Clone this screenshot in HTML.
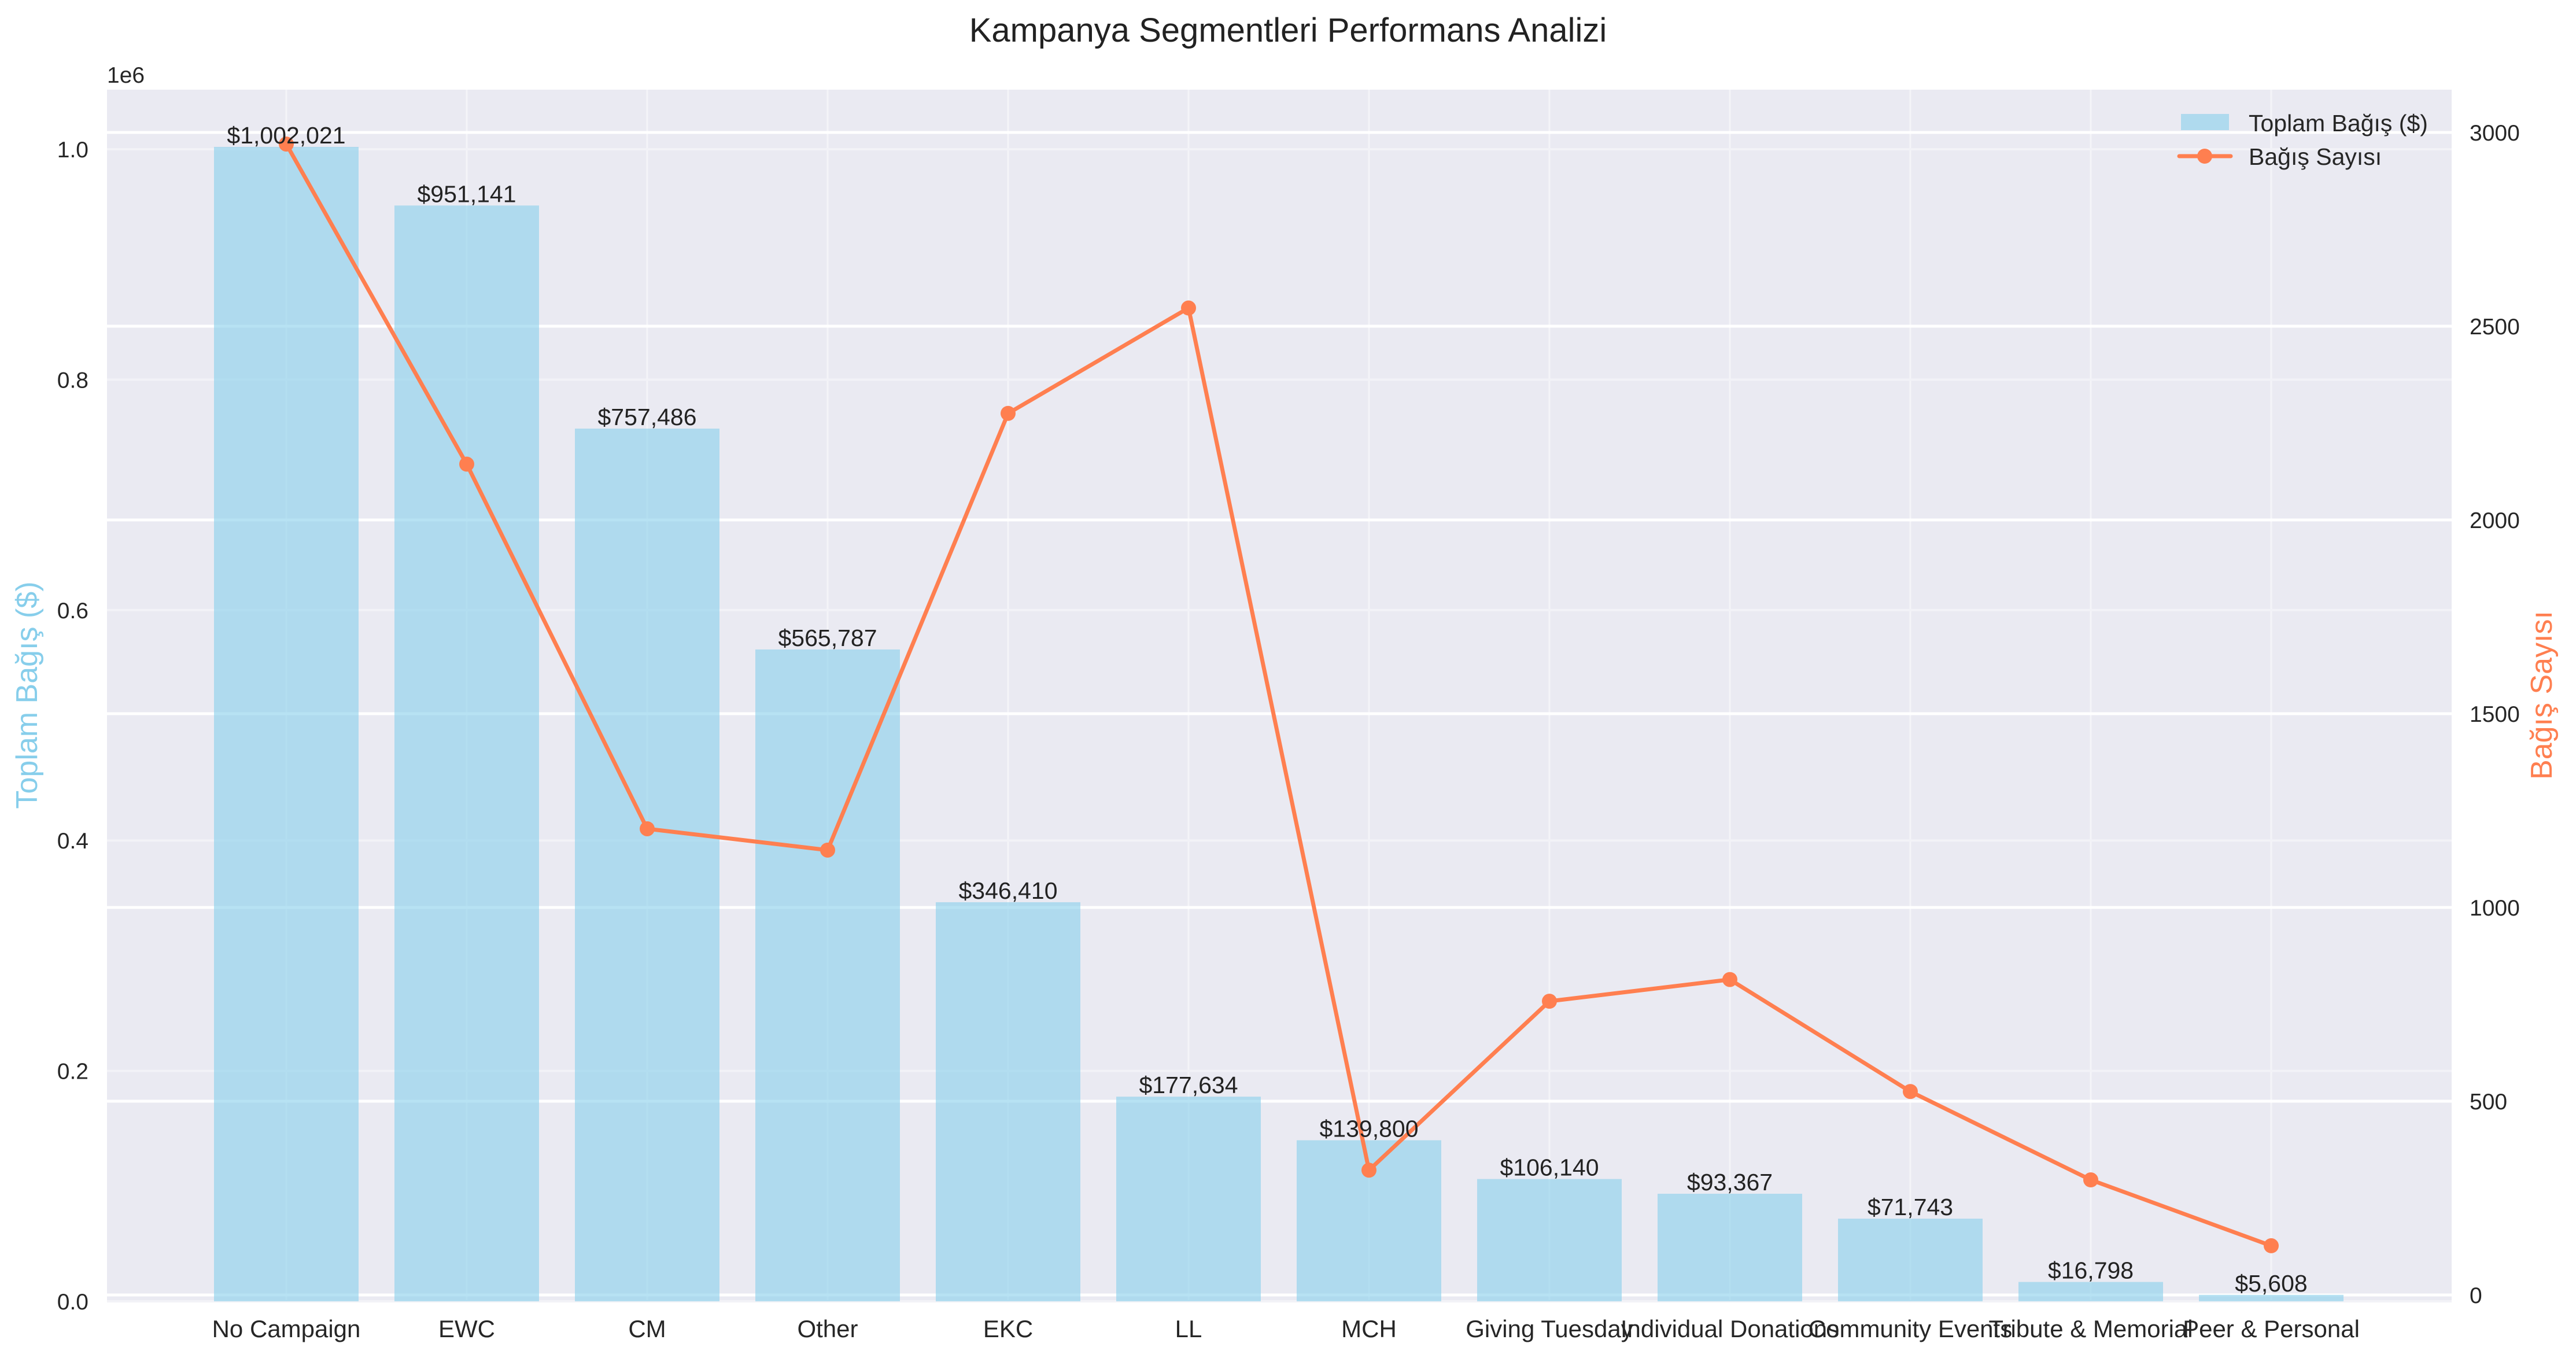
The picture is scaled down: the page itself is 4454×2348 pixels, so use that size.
<!DOCTYPE html>
<html><head><meta charset="utf-8">
<style>
html,body{margin:0;padding:0;background:#fff;}
svg{display:block;font-family:"Liberation Sans",sans-serif;}
</style></head>
<body>
<svg id="chart" width="4454" height="2348" viewBox="0 0 4454 2348" xmlns="http://www.w3.org/2000/svg">
<rect x="0" y="0" width="4454" height="2348" fill="#fff"/>
<text x="2227" y="72" text-anchor="middle" font-size="58" fill="#222">Kampanya Segmentleri Performans Analizi</text>
<rect x="185" y="155" width="4054" height="2095" fill="#eaeaf2"/>
<g id="grid"></g>
<g id="bars"></g>
<g id="line"></g>
<g id="labels"></g>
<text x="185" y="143" font-size="39" fill="#262626">1e6</text>
<text transform="translate(64,1202) rotate(-90)" text-anchor="middle" font-size="52" fill="#87ceeb">Toplam Bağış ($)</text>
<text transform="translate(4412,1202) rotate(-90)" text-anchor="middle" font-size="52" fill="#ff7f50">Bağış Sayısı</text>
<g>
<rect x="3771" y="197" width="83" height="28" fill="#87ceeb" fill-opacity="0.6"/>
<text x="3888" y="227" font-size="41" fill="#262626">Toplam Bağış ($)</text>
<line x1="3768" y1="270" x2="3857" y2="270" stroke="#ff7f50" stroke-width="7" stroke-linecap="round"/>
<circle cx="3812" cy="270" r="13" fill="#ff7f50"/>
<text x="3888" y="285" font-size="41" fill="#262626">Bağış Sayısı</text>
</g>
</svg>
<script>
const categories = ["No Campaign","EWC","CM","Other","EKC","LL","MCH","Giving Tuesday","Individual Donations","Community Events","Tribute & Memorial","Peer & Personal"];
const totals = [1002021,951141,757486,565787,346410,177634,139800,106140,93367,71743,16798,5608];
const counts = [2970,2144,1203,1148,2275,2547,322,758,814,525,297,127];
const leftTicks = [0,200000,400000,600000,800000,1000000];
const leftTickLabels = ["0.0","0.2","0.4","0.6","0.8","1.0"];
const rightTicks = [0,500,1000,1500,2000,2500,3000];

const NS="http://www.w3.org/2000/svg";
const X0=185,X1=4239,Y0=155,Y1=2250;
function xs(i){return 495+i*312;}
function yl(v){return 2250-v*0.001992;}
function yr(v){return 2239-v*0.67;}
function mk(tag,attrs,parent){const e=document.createElementNS(NS,tag);for(const k in attrs)e.setAttribute(k,attrs[k]);document.getElementById(parent).appendChild(e);return e;}

categories.forEach((c,i)=>{
  const g=mk('line',{x1:xs(i),x2:xs(i),y1:Y0,y2:Y1,stroke:'#f4f4f8','stroke-width':3},'grid');
  
  
});
leftTicks.forEach((t,i)=>{
  const g=mk('line',{x1:X0,x2:X1,y1:yl(t),y2:yl(t),stroke:'#f2f2f7','stroke-width':4},'grid');
  
  
  const tx=mk('text',{x:153,y:yl(t)+14,'text-anchor':'end','font-size':39,fill:'#262626'},'labels');
  tx.textContent=leftTickLabels[i];
  
  
});
rightTicks.forEach(t=>{
  const g=mk('line',{x1:X0,x2:X1,y1:yr(t),y2:yr(t),stroke:'#ffffff','stroke-width':5},'grid');
  
  
  const tx=mk('text',{x:4270,y:yr(t)+14,'text-anchor':'start','font-size':39,fill:'#262626'},'labels');
  tx.textContent=String(t);
  
  
});
totals.forEach((v,i)=>{
  const top=yl(v);
  const b=mk('rect',{x:xs(i)-125,y:top,width:250,height:Y1-top,fill:'#87ceeb','fill-opacity':0.6},'bars');
  
  
  const t=mk('text',{x:xs(i),y:top-6,'text-anchor':'middle','font-size':41,fill:'#222'},'labels');
  t.textContent='$'+v.toLocaleString('en-US');
  
  
  const xl=mk('text',{x:xs(i),y:2312,'text-anchor':'middle','font-size':42,fill:'#262626'},'labels');
  xl.textContent=categories[i];
  
  
});
const pts=counts.map((c,i)=>xs(i)+','+yr(c)).join(' ');
const pl=mk('polyline',{points:pts,fill:'none',stroke:'#ff7f50','stroke-width':7,'stroke-linejoin':'round'},'line');


counts.forEach((c,i)=>{
  const m=mk('circle',{cx:xs(i),cy:yr(c),r:13,fill:'#ff7f50'},'line');
  
  
});
</script>
</body></html>
